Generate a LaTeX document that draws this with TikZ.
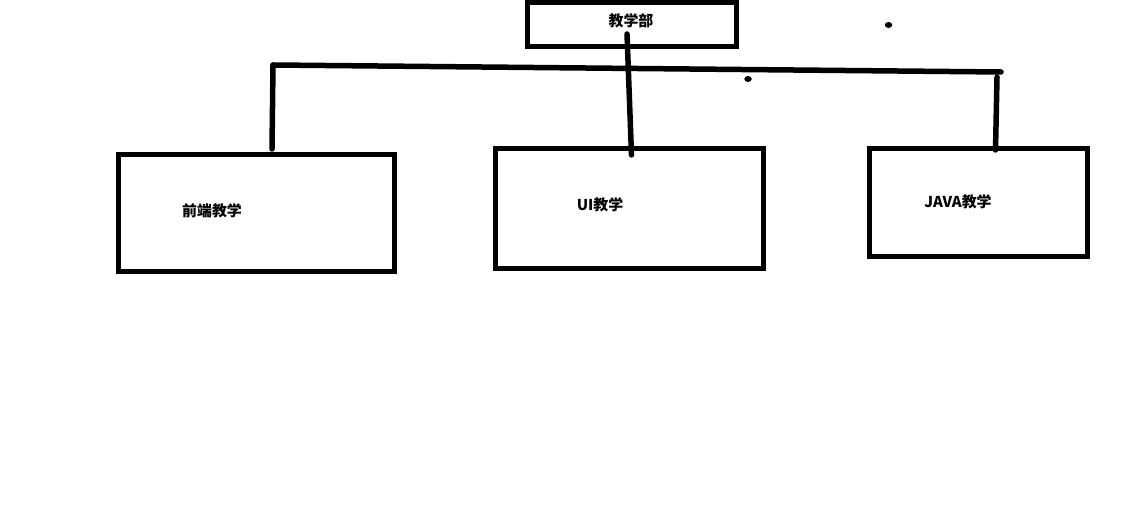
\documentclass[tikz,border=0pt]{standalone}
\usepackage{fontspec}
\usepackage{tikz}
\usetikzlibrary{calc}
\newfontfamily\cjk{Noto Sans CJK SC}
\definecolor{ink}{HTML}{000000}
\tikzset{
  box/.style={draw=ink, line width=0.1cm, line join=miter, inner sep=0pt},
  wire/.style={draw=ink, line width=0.11cm, line cap=round, line join=round},
  lab/.style={text=ink, font=\cjk\bfseries\fontsize{8.5}{10}\selectfont, inner sep=0pt},
  speck/.style={ellipse, fill=ink, inner sep=0pt, minimum width=0.15cm, minimum height=0.12cm},
}
\usetikzlibrary{shapes.geometric}

\begin{document}
\begin{tikzpicture}[x=0.02cm, y=-0.02cm]
  \useasboundingbox (0,0) rectangle (1138,526);
  % boxes
  \node[box, minimum width=4.18cm, minimum height=0.88cm] (top) at (632,24.5) {};
  \node[box, minimum width=5.53cm, minimum height=2.34cm] (fe) at (256.75,213) {};
  \node[box, minimum width=5.38cm, minimum height=2.42cm] (ui) at (629.5,208.5) {};
  \node[box, minimum width=4.38cm, minimum height=2.18cm] (java) at (978.5,202.5) {};
  \node[lab] (toplab) at (631,21) {教学部};
  \node[lab] (felab) at (212,211) {前端教学};
  \node[lab] (uilab) at (600,205) {UI教学};
  \node[lab] (javalab) at (958,202) {JAVA教学};
  % bar and drops
  \coordinate (barL) at (273,65);
  \coordinate (barR) at (1001,72);
  \coordinate (topin) at (627,34);
  \coordinate (feT) at (272,149);
  \coordinate (uiT) at (631.5,155);
  \coordinate (javaB) at (997,77);
  \coordinate (javaT) at (995.5,150);
  \draw[wire] (barL) -- (barR);
  \draw[wire] (barL) -- (feT);
  \draw[wire] (topin) -- (uiT);
  \draw[wire] (javaB) -- (javaT);
  \node[speck] (s1) at (888.5,25) {};
  \node[speck] (s2) at (748,79) {};
\end{tikzpicture}
\end{document}
